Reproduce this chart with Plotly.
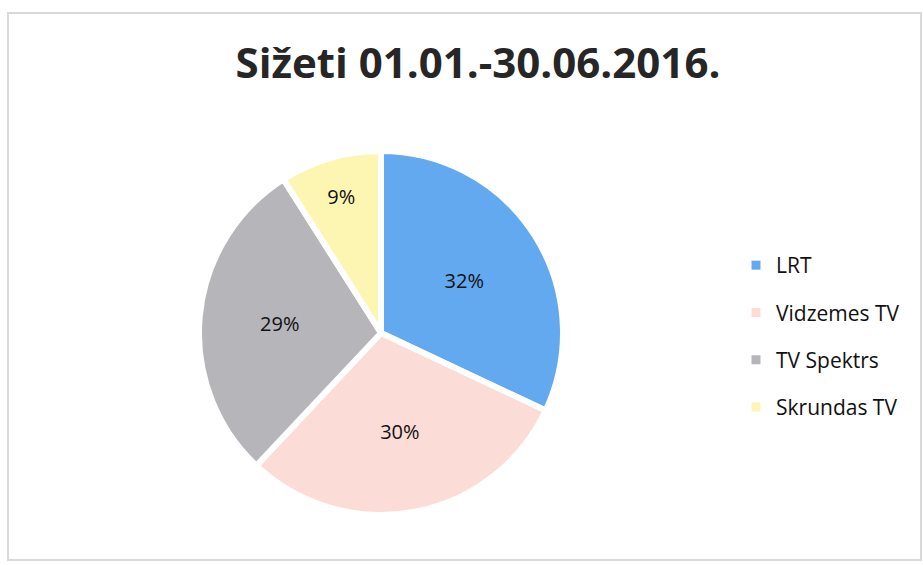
import plotly.graph_objects as go

labels = ["LRT", "Vidzemes TV", "TV Spektrs", "Skrundas TV"]
values = [32, 30, 29, 9]
colors = ["#62A9EF", "#FBDCD6", "#B6B6BA", "#FDF6B2"]

W, H = 923, 565
cx, cy, r = 381, 333, 182

fig = go.Figure(go.Pie(
    labels=labels,
    values=values,
    sort=False,
    direction="clockwise",
    rotation=0,
    marker=dict(colors=colors, line=dict(color="white", width=6)),
    texttemplate="%{percent:.0%}",
    textposition="inside",
    insidetextorientation="horizontal",
    textfont=dict(family="Open Sans, sans-serif", size=20, color="#111111"),
    domain=dict(x=[(cx - r) / W, (cx + r) / W], y=[1 - (cy + r) / H, 1 - (cy - r) / H]),
    showlegend=False,
))

# legend entries (one per category) so spacing between items can be set
for lab, col in zip(labels, colors):
    fig.add_trace(go.Scatter(
        x=[None], y=[None], mode="markers", name=lab, legendgroup=lab,
        marker=dict(symbol="square", size=9, color=col), showlegend=True,
    ))

fig.update_layout(
    width=W, height=H,
    margin=dict(l=0, r=0, t=0, b=0),
    paper_bgcolor="white",
    plot_bgcolor="white",
    xaxis=dict(visible=False),
    yaxis=dict(visible=False),
    title=dict(text="<b>Sižeti 01.01.-30.06.2016.</b>", x=478 / W, xanchor="center",
               y=1 - 63 / H, yanchor="middle",
               font=dict(family="Open Sans, sans-serif", size=42, color="#262626")),
    legend=dict(x=736 / W, y=1 - 245 / H, xanchor="left", yanchor="top",
                font=dict(family="Open Sans, sans-serif", size=21, color="#111111"),
                itemwidth=30, tracegroupgap=17, bgcolor="rgba(0,0,0,0)"),
    shapes=[dict(type="rect", xref="paper", yref="paper",
                 x0=8 / W, x1=921 / W, y0=1 - 560 / H, y1=1 - 13 / H,
                 line=dict(color="#D9D9D9", width=2))],
)

fig.write_html("out.html")
